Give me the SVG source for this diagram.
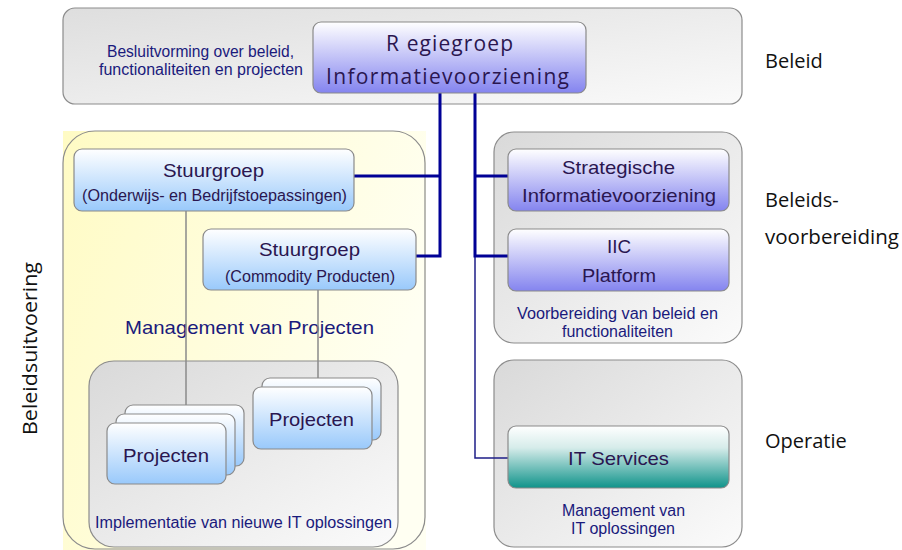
<svg xmlns="http://www.w3.org/2000/svg" width="902" height="550" viewBox="0 0 902 550">
<defs>
<linearGradient id="gTop" x1="0" y1="0" x2="1" y2="1"><stop offset="0" stop-color="#dedede"/><stop offset="1" stop-color="#fafafa"/></linearGradient>
<linearGradient id="gCont" x1="0" y1="0" x2="1" y2="1"><stop offset="0" stop-color="#d9d9d9"/><stop offset="1" stop-color="#fbfbfb"/></linearGradient>
<linearGradient id="gYel" x1="0" y1="0" x2="1" y2="0.4"><stop offset="0" stop-color="#fffbc4"/><stop offset="1" stop-color="#fffff2"/></linearGradient>
<linearGradient id="gPur" x1="0" y1="0" x2="0" y2="1"><stop offset="0" stop-color="#ffffff"/><stop offset="1" stop-color="#8484ef"/></linearGradient>
<linearGradient id="gBlu" x1="0" y1="0" x2="0" y2="1"><stop offset="0" stop-color="#ffffff"/><stop offset="1" stop-color="#99c9fb"/></linearGradient>
<linearGradient id="gTeal" x1="0" y1="0" x2="0" y2="1"><stop offset="0" stop-color="#ffffff"/><stop offset="0.35" stop-color="#d6ecea"/><stop offset="1" stop-color="#0f938a"/></linearGradient>
</defs>
<style>
.cont{stroke:#8c8c8c;stroke-width:1.2}
.node{stroke:#8a8a8a;stroke-width:1.2}
.nt{font-family:"Liberation Sans",Arial,sans-serif;fill:#2a1650}
.lab{font-family:"Liberation Sans",Arial,sans-serif;fill:#1a1a7c}
.side{font-family:"Open Sans","Noto Sans",sans-serif;fill:#111;font-size:20px}
.rg{font-family:"Open Sans","Noto Sans",sans-serif;fill:#2a1650;font-size:21px}
.thick{stroke:#000096;stroke-width:3;fill:none}
.thin{stroke:#1e1e88;stroke-width:1.5;fill:none}
.gray{stroke:#8a8a8a;stroke-width:1.5;fill:none}
</style>

<g id="containers">
<rect x="63" y="8" width="679" height="96" rx="12" fill="url(#gTop)" class="cont"/>
<rect x="63" y="131" width="363" height="419" fill="url(#gYel)"/>
<rect x="63" y="131" width="362" height="418" rx="32" fill="url(#gYel)" class="cont"/>
<rect x="494" y="132" width="248" height="211" rx="20" fill="url(#gCont)" class="cont"/>
<rect x="494" y="360" width="248" height="187" rx="20" fill="url(#gCont)" class="cont"/>
<rect x="89" y="361" width="309" height="186" rx="25" fill="url(#gCont)" class="cont"/>
</g>

<g id="labels">
<text class="lab" x="107" y="57" font-size="16" textLength="187" lengthAdjust="spacingAndGlyphs">Besluitvorming over beleid,</text>
<text class="lab" x="99" y="75" font-size="16" textLength="204" lengthAdjust="spacingAndGlyphs">functionaliteiten en projecten</text>
<text class="lab" x="125" y="334" font-size="19" textLength="249" lengthAdjust="spacingAndGlyphs">Management van Projecten</text>
<text class="lab" x="95" y="528" font-size="16" textLength="297" lengthAdjust="spacingAndGlyphs">Implementatie van nieuwe IT oplossingen</text>
<text class="lab" x="517" y="319" font-size="16" textLength="201" lengthAdjust="spacingAndGlyphs">Voorbereiding van beleid en</text>
<text class="lab" x="562" y="337" font-size="16" textLength="111" lengthAdjust="spacingAndGlyphs">functionaliteiten</text>
<text class="lab" x="562" y="516" font-size="16" textLength="123" lengthAdjust="spacingAndGlyphs">Management van</text>
<text class="lab" x="571" y="534" font-size="16" textLength="104" lengthAdjust="spacingAndGlyphs">IT oplossingen</text>
<text class="side" x="765" y="68">Beleid</text>
<text class="side" x="765" y="207">Beleids-</text>
<text class="side" x="765" y="244" textLength="134" lengthAdjust="spacingAndGlyphs">voorbereiding</text>
<text class="side" x="765" y="448">Operatie</text>
<text class="side" x="37" y="435" transform="rotate(-90 37 435)" textLength="173" lengthAdjust="spacingAndGlyphs">Beleidsuitvoering</text>
</g>

<g id="connectors">
<path class="gray" d="M186 211V405M318 290V378"/>
<path class="thin" d="M475 256V458H508"/>
<path class="thick" d="M440 93V257.5M354 176H440M416 256H440"/>
<path class="thick" d="M475 93V257.5M475 176H508M475 256H508"/>
</g>

<g id="regiegroep">
<rect x="313" y="22" width="273" height="71" rx="8" fill="url(#gPur)" class="node"/>
<text class="rg" x="386" y="51" textLength="127" lengthAdjust="spacing">R egiegroep</text>
<text class="rg" x="326" y="84" textLength="243" lengthAdjust="spacing">Informatievoorziening</text>
</g>

<g id="stuurgroep1">
<rect x="74" y="149" width="280" height="62" rx="8" fill="url(#gBlu)" class="node"/>
<text class="nt" x="163" y="177" font-size="19" textLength="101" lengthAdjust="spacingAndGlyphs">Stuurgroep</text>
<text class="nt" x="82" y="201" font-size="16" textLength="265" lengthAdjust="spacingAndGlyphs">(Onderwijs- en Bedrijfstoepassingen)</text>
</g>

<g id="stuurgroep2">
<rect x="203" y="229" width="213" height="61" rx="8" fill="url(#gBlu)" class="node"/>
<text class="nt" x="259" y="256" font-size="19" textLength="101" lengthAdjust="spacingAndGlyphs">Stuurgroep</text>
<text class="nt" x="225" y="282" font-size="16" textLength="170" lengthAdjust="spacingAndGlyphs">(Commodity Producten)</text>
</g>

<g id="strategische">
<rect x="508" y="149" width="221" height="62" rx="8" fill="url(#gPur)" class="node"/>
<text class="nt" x="562" y="174" font-size="19" textLength="113" lengthAdjust="spacingAndGlyphs">Strategische</text>
<text class="nt" x="522" y="202" font-size="19" textLength="194" lengthAdjust="spacingAndGlyphs">Informatievoorziening</text>
</g>

<g id="iic">
<rect x="508" y="229" width="221" height="62" rx="8" fill="url(#gPur)" class="node"/>
<text class="nt" x="607" y="253" font-size="19" textLength="24" lengthAdjust="spacingAndGlyphs">IIC</text>
<text class="nt" x="582" y="282" font-size="19" textLength="74" lengthAdjust="spacingAndGlyphs">Platform</text>
</g>

<g id="itservices">
<rect x="508" y="426" width="221" height="62" rx="8" fill="url(#gTeal)" class="node"/>
<text class="nt" x="568" y="465" font-size="19" textLength="101" lengthAdjust="spacingAndGlyphs">IT Services</text>
</g>

<g id="projecten1">
<rect x="125" y="405" width="119" height="61" rx="8" fill="url(#gBlu)" class="node"/>
<rect x="116" y="414" width="119" height="61" rx="8" fill="url(#gBlu)" class="node"/>
<rect x="107" y="423" width="119" height="61" rx="8" fill="url(#gBlu)" class="node"/>
<text class="nt" x="123" y="462" font-size="19" textLength="86" lengthAdjust="spacingAndGlyphs">Projecten</text>
</g>

<g id="projecten2">
<rect x="262" y="378" width="119" height="62" rx="8" fill="url(#gBlu)" class="node"/>
<rect x="253" y="387" width="119" height="62" rx="8" fill="url(#gBlu)" class="node"/>
<text class="nt" x="269" y="426" font-size="19" textLength="85" lengthAdjust="spacingAndGlyphs">Projecten</text>
</g>
</svg>
